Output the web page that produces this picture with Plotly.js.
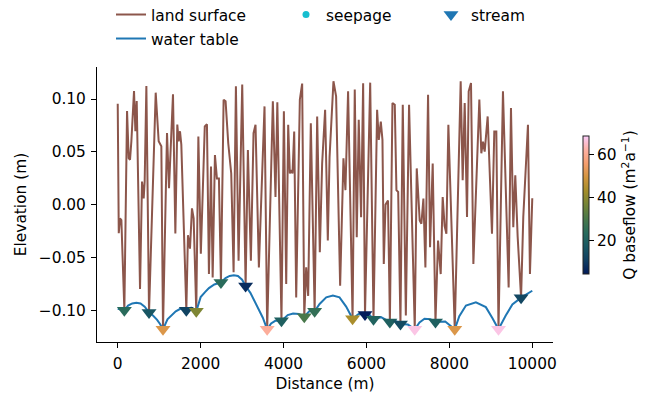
<!DOCTYPE html>
<html>
<head>
<meta charset="utf-8">
<script src="https://cdn.plot.ly/plotly-3.0.1.min.js"></script>
<style>
  html, body { margin: 0; padding: 0; background: #ffffff; }
  #chart { width: 654px; height: 394px; }
</style>
</head>
<body>
<div id="chart"></div>
<script>
// Land surface profile along the transect (distance in m, elevation in m)
const landX = [0, 25, 55, 88, 160, 225, 265, 297, 329, 393, 426, 458, 538, 586, 626, 650, 691, 755,
  916, 988, 1052, 1092, 1189, 1237, 1333, 1390, 1437, 1470, 1502, 1534, 1655, 1694, 1743, 1791, 1831, 1895,
  1945, 2005, 2100, 2152, 2200, 2250, 2290, 2345, 2393, 2441, 2490, 2554, 2602, 2666, 2738, 2795, 2851,
  2915, 3003, 3085, 3140, 3212, 3276, 3324, 3405, 3541, 3605, 3742, 3806, 3850, 3950, 4008, 4064, 4112,
  4152, 4184, 4216, 4257, 4305, 4393, 4449, 4500, 4546, 4594, 4658, 4750, 4811, 4875, 4931, 5003, 5068,
  5110, 5204, 5268, 5365, 5445, 5493, 5557, 5665, 5718, 5766, 5814, 5870, 5920, 5965, 6090, 6170, 6257,
  6298, 6346, 6386, 6418, 6460, 6520, 6565, 6627, 6683, 6723, 6765, 6820, 6876, 6950, 7028, 7165, 7213,
  7285, 7325, 7374, 7422, 7486, 7534, 7598, 7665, 7727, 7791, 7839, 7885, 7928, 7976, 8130, 8273, 8321,
  8370, 8426, 8466, 8522, 8579, 8723, 8771, 8811, 8852, 8924, 9028, 9084, 9133, 9185, 9293, 9430, 9486,
  9542, 9590, 9647, 9730, 9783, 9896, 9944, 10000];
const landZ = [0.0955, -0.027, -0.013, -0.0146, -0.100, 0.0886, 0.0441, 0.0425, 0.0600, 0.1076, 0.0695,
  0.0981, -0.0797, 0.0219, 0.0060, 0.0219, 0.1124, -0.102, 0.1060, 0.0600, 0.0552, -0.118, 0.0679, 0.0155,
  0.1044, -0.0273, 0.0759, 0.0600, 0.0695, 0.0568, -0.100, -0.0289, -0.0416, -0.0035, -0.0130, -0.101,
  0.0645, -0.0465, 0.0740, 0.0762, -0.0657, 0.0360, -0.0689, 0.0470, 0.0247, 0.0247, -0.0736, 0.0994,
  0.0978, 0.0581, 0.0295, -0.0640, 0.1121, -0.0530, 0.1137, -0.077, 0.0517, -0.0530, 0.0676, 0.0756,
  -0.0594, 0.0930, -0.118, 0.0978, 0.0073, 0.0970, -0.110, 0.0883, -0.0752, 0.0756, 0.0295, 0.0327,
  0.0295, 0.0692, -0.0879, 0.0994, 0.1146, -0.106, -0.0594, -0.0864, 0.0771, -0.101, 0.0835, -0.0451,
  0.0390, 0.0898, -0.0340, 0.0450, 0.1168, 0.1025, -0.0768, 0.0438, 0.0137, 0.1073, -0.108, 0.1089,
  -0.0308, 0.0803, -0.0120, 0.1150, -0.104, 0.1155, -0.1085, 0.0898, 0.0613, 0.0787, 0.0613, -0.0562,
  0.0000, 0.0040, -0.111, 0.0962, 0.0946, 0.0137, 0.0120, -0.113, 0.0946, -0.1050, 0.0946, -0.118,
  0.0343, -0.0150, -0.0181, 0.0057, -0.0594, 0.1041, -0.0403, 0.0390, -0.111, -0.0340, -0.0657, 0.0073,
  -0.0200, -0.0276, 0.0756, -0.118, 0.1168, 0.0232, 0.0962, -0.0117, 0.1073, 0.1152, -0.0562, 0.0994,
  0.0486, 0.0597, 0.0502, 0.0835, -0.0276, 0.0692, 0.0692, -0.118, 0.1073, -0.0784, 0.0914, -0.0213,
  0.0279, -0.0300, -0.088, -0.0117, 0.0756, -0.0657, 0.0060];

// Simulated water table
const tableX = [0, 80, 160, 250, 350, 450, 550, 650, 755, 850, 950, 1020, 1092, 1200, 1300, 1400, 1500,
  1580, 1655, 1770, 1895, 2000, 2100, 2200, 2330, 2490, 2600, 2700, 2800, 2900, 3000, 3085, 3200, 3300,
  3400, 3500, 3605, 3700, 3800, 3950, 4100, 4230, 4370, 4500, 4620, 4750, 4870, 5030, 5190, 5350, 5510,
  5665, 5810, 5965, 6060, 6170, 6350, 6565, 6700, 6820, 7000, 7165, 7280, 7400, 7540, 7665, 7900, 8130,
  8240, 8400, 8640, 8880, 9040, 9185, 9360, 9520, 9730, 9880, 10000];
const tableZ = [-0.0985, -0.0990, -0.1000, -0.0955, -0.0935, -0.0928, -0.0935, -0.0965, -0.1020, -0.1050,
  -0.1090, -0.1130, -0.1180, -0.1085, -0.1045, -0.1010, -0.0988, -0.0982, -0.1000, -0.0975, -0.1010,
  -0.0875, -0.0830, -0.0790, -0.0755, -0.0736, -0.0695, -0.0675, -0.0668, -0.0675, -0.0710, -0.0770,
  -0.0835, -0.0910, -0.0985, -0.1070, -0.1180, -0.1125, -0.1100, -0.1100, -0.1045, -0.1030, -0.1035,
  -0.1060, -0.1010, -0.1010, -0.0940, -0.0877, -0.0860, -0.0877, -0.0965, -0.1080, -0.1035, -0.1040,
  -0.1035, -0.1085, -0.1065, -0.1110, -0.1100, -0.1130, -0.1135, -0.1180, -0.1115, -0.1080, -0.1085,
  -0.1110, -0.1105, -0.1180, -0.1055, -0.0955, -0.0924, -0.0970, -0.1075, -0.1180, -0.1050, -0.0945,
  -0.0880, -0.0845, -0.0815];

// Stream cells: location, elevation and baseflow (m2/a)
const streamX = [160, 755, 1092, 1655, 1895, 2490, 3085, 3605, 3950, 4500, 4750, 5665, 5965, 6170, 6565,
  6820, 7165, 7665, 8130, 9185, 9730];
const streamZ = [-0.100, -0.102, -0.118, -0.100, -0.101, -0.0736, -0.077, -0.118, -0.110, -0.106, -0.101,
  -0.108, -0.104, -0.1085, -0.111, -0.113, -0.118, -0.111, -0.118, -0.118, -0.088];
const streamQ = [24, 17, 51, 12, 38, 24, 8, 61, 20, 30, 26, 44, 5, 21, 20, 14, 67, 20, 51, 67, 13];

// Seepage cells (none on this transect)
const seepX = [null];
const seepZ = [null];

const xTicks = [0, 2000, 4000, 6000, 8000, 10000];
const yTicks = [-0.10, -0.05, 0.00, 0.05, 0.10];
const qTicks = [20, 40, 60];

const batlow = [
  [0.0, '#011959'], [0.1, '#103f62'], [0.2, '#195863'], [0.3, '#286b5c'],
  [0.4, '#49784a'], [0.5, '#738437'], [0.6, '#a38d2a'], [0.7, '#d2953e'],
  [0.8, '#f59e6e'], [0.9, '#fdb1a4'], [1.0, '#faccfa']
];

const FONT = 'DejaVu Sans, sans-serif';
const FS = 15.4;
const W = 654, H = 394;

// plot area in pixels
const PL = 97, PR = 553, PT = 67, PB = 342;
const px2x = p => (p - PL) / (PR - PL);
const py2y = p => (PB - p) / (PB - PT);

const txt = { family: FONT, size: FS, color: '#000' };

const traces = [
  {
    type: 'scatter', mode: 'lines', name: 'land surface',
    x: landX, y: landZ,
    line: { color: '#8c564b', width: 2 },
    legend: 'legend', showlegend: true, hoverinfo: 'skip'
  },
  {
    type: 'scatter', mode: 'lines', name: 'water table',
    x: tableX, y: tableZ,
    line: { color: '#1f77b4', width: 2 },
    legend: 'legend2', showlegend: true, hoverinfo: 'skip'
  },
  {
    type: 'scatter', mode: 'markers', name: 'seepage',
    x: seepX, y: seepZ,
    marker: { color: '#17becf', size: 7, symbol: 'circle' },
    legend: 'legend3', showlegend: true
  },
  {
    type: 'scatter', mode: 'markers', name: 'stream',
    x: [null], y: [null],
    marker: { color: '#1f77b4', size: 13, symbol: 'triangle-down' },
    legend: 'legend4', showlegend: true
  },
  {
    type: 'scatter', mode: 'markers', name: 'stream',
    x: streamX, y: streamZ, showlegend: false,
    marker: {
      symbol: 'triangle-down', size: 13,
      color: streamQ, colorscale: batlow, cmin: 4.6, cmax: 68.6,
      line: { width: 0 },
      showscale: true,
      colorbar: {
        x: px2x(583), xanchor: 'left',
        y: py2y(205), yanchor: 'middle',
        len: 138, lenmode: 'pixels',
        thickness: 6, thicknessmode: 'pixels',
        xpad: 0, ypad: 0,
        outlinewidth: 1, outlinecolor: '#222',
        tickvals: qTicks, ticks: 'outside', ticklen: 5, tickwidth: 1, tickcolor: '#000',
        tickfont: txt,
        title: { text: 'Q baseflow (m<sup>2</sup>a<sup>\u22121</sup>)', side: 'right', font: txt }
      }
    }
  }
];

function legendAt(px, py) {
  return {
    x: px2x(px), xanchor: 'left',
    y: py2y(py), yanchor: 'middle',
    bgcolor: 'rgba(0,0,0,0)', borderwidth: 0,
    font: txt
  };
}

const layout = {
  width: W, height: H,
  margin: { l: PL, r: W - PR, t: PT, b: H - PB, autoexpand: false },
  paper_bgcolor: '#ffffff', plot_bgcolor: '#ffffff',
  font: txt,
  xaxis: {
    range: [-500, 10500], tickvals: xTicks, tickformat: 'd',
    showgrid: false, zeroline: false, automargin: false,
    showline: true, linecolor: '#000', linewidth: 1,
    ticks: 'outside', ticklen: 5, tickwidth: 1, tickcolor: '#000', ticklabelstandoff: 3,
    tickfont: txt,
    title: { text: 'Distance (m)', font: txt, standoff: 5 }
  },
  yaxis: {
    range: [-0.1300, 0.1303], tickvals: yTicks, tickformat: '.2f',
    showgrid: false, zeroline: false, automargin: false,
    showline: true, linecolor: '#000', linewidth: 1,
    ticks: 'outside', ticklen: 5, tickwidth: 1, tickcolor: '#000', ticklabelstandoff: 2,
    tickfont: txt,
    title: { text: 'Elevation (m)', font: txt, standoff: 8 }
  },
  showlegend: true,
  legend: legendAt(111, 15),
  legend2: legendAt(111, 39),
  legend3: legendAt(286, 15),
  legend4: legendAt(431, 15)
};

Plotly.newPlot('chart', traces, layout, { displayModeBar: false, staticPlot: true });
</script>
</body>
</html>
